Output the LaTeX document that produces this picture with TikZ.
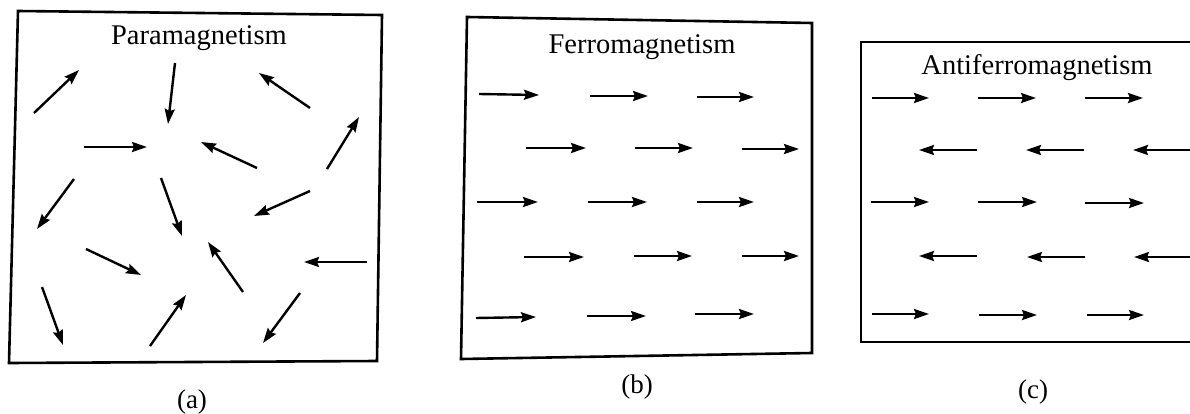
\documentclass[tikz,border=0pt]{standalone}
\usepackage{fontspec}
\setmainfont{Liberation Serif}
\usetikzlibrary{arrows.meta}
\begin{document}
\begin{tikzpicture}[x=1pt,y=-1pt,
  spin/.style={line width=2.4pt,-{Stealth[length=15pt,width=10pt,inset=2pt]}},
  frame/.style={line width=2.6pt,line join=miter},
  title/.style={font=\fontsize{28.5}{34}\selectfont,inner sep=0pt},
  sublabel/.style={font=\fontsize{27}{32}\selectfont,inner sep=0pt}]
\useasboundingbox[fill=white] (0,0) rectangle (1190,414);
\begin{scope}
\clip (0,0) rectangle (1190,414);
% (a) Paramagnetism
\draw[frame] (18,11) -- (382,15) -- (377,361) -- (9,363) -- cycle;
\node[title] (ta) at (199,38) {Paramagnetism};
\draw[spin] (34,113) -- (79,70);
\draw[spin] (175,63) -- (168,124);
\draw[spin] (310,108) -- (259,73);
\draw[spin] (84,147) -- (147,147);
\draw[spin] (257,168) -- (201,142);
\draw[spin] (327,169) -- (359,117);
\draw[spin] (74,179) -- (37,229);
\draw[spin] (161,178) -- (182,236);
\draw[spin] (310,191) -- (254,216);
\draw[spin] (86,249) -- (141,275);
\draw[spin] (243,292) -- (208,242);
\draw[spin] (367,262) -- (304,262);
\draw[spin] (42,287) -- (63,345);
\draw[spin] (150,346) -- (186,295);
\draw[spin] (300,293) -- (263,343);
\node[sublabel] (la) at (192,402) {(a)};
% (b) Ferromagnetism
\draw[frame] (467,17) -- (812,23) -- (812,353) -- (461,359) -- cycle;
\node[title] (tb) at (642,47) {Ferromagnetism};
\draw[spin] (479,94) -- (539,95);
\draw[spin] (590,96) -- (648,96);
\draw[spin] (697,97) -- (754,97);
\draw[spin] (526,148) -- (586,148);
\draw[spin] (635,148) -- (693,148);
\draw[spin] (742,149) -- (799,149);
\draw[spin] (477,202) -- (538,202);
\draw[spin] (588,202) -- (647,202);
\draw[spin] (697,202) -- (754,202);
\draw[spin] (524,257) -- (584,257);
\draw[spin] (634,256) -- (692,256);
\draw[spin] (742,256) -- (799,256);
\draw[spin] (476,318) -- (536,317);
\draw[spin] (587,316) -- (646,316);
\draw[spin] (695,314) -- (754,314);
\node[sublabel] (lb) at (637,387) {(b)};
% (c) Antiferromagnetism
\draw[frame] (1200,42) -- (861,42) -- (861,342) -- (1200,342);
\node[title] (tc) at (1037,68) {Antiferromagnetism};
\draw[spin] (872,98) -- (929,98);
\draw[spin] (978,98) -- (1036,98);
\draw[spin] (1085,98) -- (1143,98);
\draw[spin] (977,150) -- (919,150);
\draw[spin] (1084,150) -- (1026,150);
\draw[spin] (1195,150) -- (1133,150);
\draw[spin] (871,202) -- (929,202);
\draw[spin] (978,202) -- (1037,202);
\draw[spin] (1085,203) -- (1144,203);
\draw[spin] (977,256) -- (919,256);
\draw[spin] (1085,257) -- (1027,257);
\draw[spin] (1195,257) -- (1134,257);
\draw[spin] (872,314) -- (929,314);
\draw[spin] (979,315) -- (1037,315);
\draw[spin] (1087,315) -- (1144,315);
\node[sublabel] (lc) at (1033,392) {(c)};
\end{scope}
\end{tikzpicture}
\end{document}
